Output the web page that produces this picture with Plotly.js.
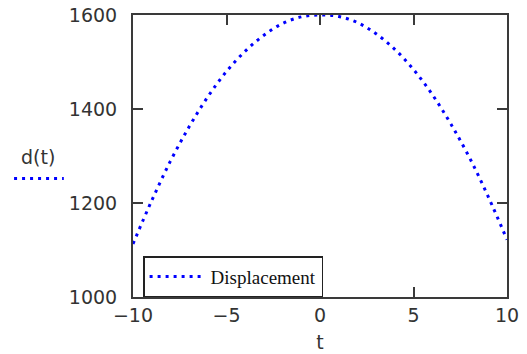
<!DOCTYPE html>
<html>
<head>
<meta charset="utf-8">
<script src="https://cdn.plot.ly/plotly-3.0.1.min.js"></script>
<style>
  html, body { margin: 0; padding: 0; background: #fff; }
  #grafik { width: 527px; height: 354px; }
</style>
</head>
<body>
<div id="grafik"></div>
<script>
/* ==========================================================
   DATA
========================================================== */
const waktu = [-10, -9, -8, -7, -6, -5, -4, -3, -2, -1, 0, 1, 2, 3, 4, 5, 6, 7, 8, 9, 10];
const perpindahan = [1113, 1205, 1289, 1362, 1426, 1480, 1523, 1557, 1582, 1596, 1600,
                     1597, 1584, 1560, 1527, 1484, 1431, 1368, 1296, 1213, 1122];
const tickX = [-10, -5, 0, 5, 10];
const tickY = [1000, 1200, 1400, 1600];

const warnaGaris = "#0000ff";
const warnaSumbu = "#3a3a3a";
const fontSans = "DejaVu Sans, Verdana, sans-serif";

/* ==========================================================
   TRACE
========================================================== */
const traceD = {
  x: waktu,
  y: perpindahan,
  mode: "lines",
  name: "Displacement",
  line: { color: warnaGaris, width: 3, dash: "3px,5px", shape: "spline" }
};

/* ==========================================================
   LAYOUT
========================================================== */
const sumbu = {
  showgrid: false,
  zeroline: false,
  showline: true,
  linecolor: warnaSumbu,
  linewidth: 2,
  mirror: "allticks",
  ticks: "inside",
  ticklen: 10,
  tickwidth: 2,
  tickcolor: warnaSumbu,
  tickfont: { family: fontSans, size: 19, color: "#333" }
};

const layout = {
  width: 527,
  height: 354,
  margin: { l: 133, r: 20, t: 15, b: 57 },
  paper_bgcolor: "white",
  plot_bgcolor: "white",
  showlegend: true,
  xaxis: Object.assign({}, sumbu, {
    range: [-10, 10],
    tickvals: tickX,
    ticktext: tickX.map(v => v < 0 ? "\u2212" + Math.abs(v) : String(v)),
    ticklabelstandoff: 0,
    title: { text: "t", font: { family: fontSans, size: 19, color: "#333" }, standoff: 11 }
  }),
  yaxis: Object.assign({}, sumbu, {
    range: [1000, 1600],
    tickvals: tickY,
    ticklabelstandoff: 10
  }),
  legend: {
    x: 0.027, y: 0.145,
    xanchor: "left", yanchor: "top",
    bgcolor: "white",
    bordercolor: "#222",
    borderwidth: 1.5,
    font: { family: "Liberation Serif, Times New Roman, serif", size: 19, color: "#111" },
    itemwidth: 56
  },
  annotations: [{
    text: "d(t)",
    xref: "paper", yref: "paper",
    x: -0.255, y: 0.452,
    xanchor: "center", yanchor: "bottom",
    showarrow: false,
    font: { family: fontSans, size: 19, color: "#333" }
  }],
  shapes: [{
    type: "line",
    xref: "paper", yref: "paper",
    x0: -0.318, x1: -0.185, y0: 0.42, y1: 0.42,
    line: { color: warnaGaris, width: 3, dash: "3px,5px" }
  }]
};

Plotly.newPlot("grafik", [traceD], layout, { displayModeBar: false, staticPlot: true });
</script>
</body>
</html>
